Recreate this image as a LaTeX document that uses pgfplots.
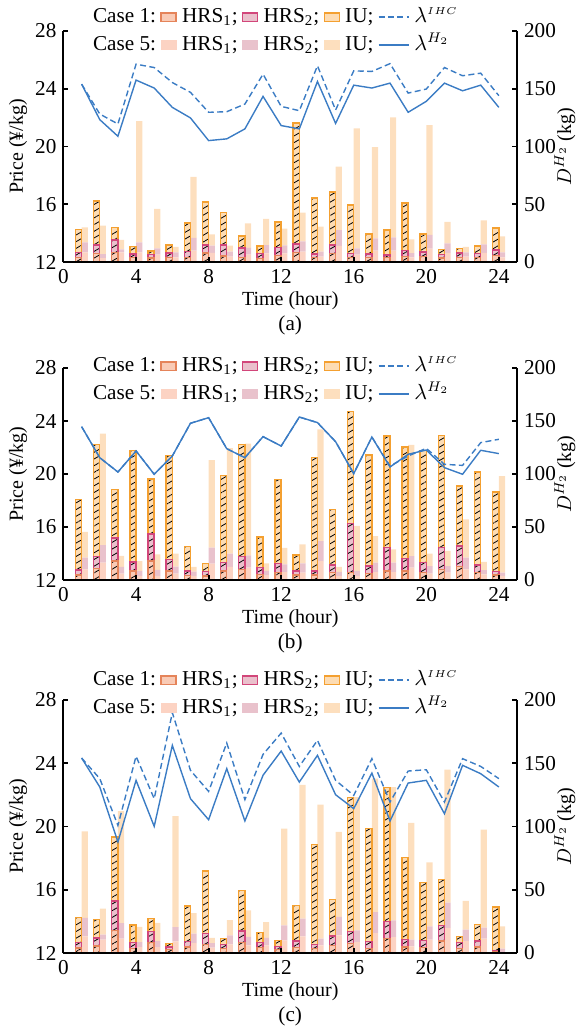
\documentclass[border=0pt]{standalone}
\usepackage{fontspec}
\setmainfont{Liberation Serif}
\usepackage{pgfplots}
\usepackage{pgfplotstable}
\pgfplotsset{compat=1.18}
\usetikzlibrary{patterns.meta}

\definecolor{cIa}{HTML}{E5845A}\definecolor{cIaf}{HTML}{F9CBB6}
\definecolor{cIb}{HTML}{D2467A}\definecolor{cIbf}{HTML}{EAC0CC}
\definecolor{cIc}{HTML}{F4A030}\definecolor{cIcf}{HTML}{FDDCB3}
\definecolor{cVa}{HTML}{FCD3C3}
\definecolor{cVb}{HTML}{E9C2CC}
\definecolor{cVc}{HTML}{FDDFBE}
\definecolor{lblue}{HTML}{3B7CC4}

\newcommand\fsz{\fontsize{10.6}{12}\selectfont}

% hour, case 1 (HRS1 HRS2 IU), case 5 (HRS1 HRS2 IU), lambda IHC, lambda H2
\pgfplotstableread{
h c1a c1b c1c c5a c5b c5c ihc hh
1 4 4.3 20 8.3 8.6 13 24.32 24.32
2 7.5 7.2 38 3.4 3.5 24.7 22.25 21.86
3 8.3 10.9 10.6 8.3 2.6 8.3 21.56 20.71
4 4 3 6.5 8.3 8.6 105 25.7 24.6
5 3.5 3 3 6.3 5.5 34.2 25.47 24.05
6 4 3.8 6.8 4 4.3 4.9 24.43 22.71
7 4 5 24.6 9.8 11.2 52.8 23.75 21.98
8 7.8 6.9 37.3 7.8 6.3 9.8 22.37 20.41
9 5.2 9.5 28 4.6 4.3 5.2 22.41 20.53
10 4 8 10.6 6.3 6 21.2 22.94 21.22
11 3 4.6 6.3 7.5 7.2 22.7 25.01 23.47
12 5.5 7.2 21.8 7.5 6.9 14.4 22.78 21.45
13 8.3 7.2 105 8.9 8.9 25 22.48 21.22
14 4 2.9 48.5 4.6 4.3 21.8 25.59 24.5
15 7.5 7.2 46 14 13.5 55 22.53 21.6
16 4 3.4 42 6.3 5.5 104 25.24 24.25
17 4 2.9 17.2 9.8 10.6 79 25.2 24.05
18 4 2 21.6 9.8 11.5 104 25.74 24.39
19 4.6 5.2 41.3 4 3.7 12 23.7 22.37
20 4.6 4 15.5 11.5 12 95 23.98 23.13
21 3.4 2.9 4.3 7.8 8.3 18.7 25.47 24.39
22 4 3.8 4 4.6 3.7 4.9 24.9 23.86
23 4 3.4 6.3 7.8 7.5 20.7 25.08 24.25
24 5.5 4.9 19 4 4.3 13.8 23.52 22.71
}\dataA

\pgfplotstableread{
h c1a c1b c1c c5a c5b c5c ihc hh
1 4.7 4.7 66.6 10 11 24.3 23.57 23.57
2 10.7 11.3 105.7 16.4 16.4 105.3 21.23 21.23
3 17.9 21.7 45.6 6 6.3 10.4 20.15 20.15
4 8.5 8.5 105.3 3.8 4.7 9.4 21.74 21.74
5 17.9 25.5 52 3.8 5.7 14.8 19.98 19.98
6 8.5 10.7 98.4 6 6.6 12.3 21.36 21.36
7 4.4 4.1 23.3 3.8 4.1 4.4 23.83 23.83
8 3.8 4.1 7.8 15.4 15.1 82.7 24.25 24.25
9 8.5 7.9 82.4 12.3 12.6 99.4 21.91 21.91
10 10 12 105.7 11.6 11.6 105.4 21.23 21.23
11 5.3 6.3 29 4.7 3.8 7.2 22.82 22.82
12 6.9 8.5 79.6 7.5 7.2 15.7 22.11 22.11
13 4.7 3.8 15.1 6.9 8.8 18 24.3 24.3
14 4.7 3.8 107 17.9 18.9 105.4 23.88 23.88
15 6.9 7.2 52.6 3.8 3.8 4.7 22.44 22.44
16 6.9 46.6 105.3 3.8 4.7 42.5 20.03 20.03
17 6 7.2 104.8 7.5 8.8 25.2 22.79 22.79
18 8.5 22 105.4 7.5 8.8 12.6 20.6 20.53
19 8.5 11.6 105.4 11.6 11 105 21.36 21.49
20 6.9 9.4 106 6 7.2 11.6 21.94 21.81
21 10 20.4 106 6.9 6.3 14.2 20.73 20.48
22 12.6 19.5 56.6 10 11 36.2 20.65 19.98
23 6.9 7.2 87.8 5.3 4.1 7.6 22.37 21.79
24 4.7 3.1 75.2 3.8 3.1 91.2 22.62 21.54
}\dataB

\pgfplotstableread{
h c1a c1b c1c c5a c5b c5c ihc hh
1 4 4.2 19.8 13.2 14.5 68.5 24.33 24.33
2 5.5 6.3 14.8 10.5 4 20.5 23.03 22.5
3 17.9 23.2 50.6 11.3 12.4 88.5 20.07 19.02
4 3.4 4.7 14.2 4.7 4 11.9 24.44 22.92
5 8.2 9 10 4.7 4.7 14.5 21.76 20.01
6 2.6 2.1 2.6 9.2 11.3 87.8 27.2 25.13
7 4.7 4.5 28 7.9 7.4 16.3 23.55 21.76
8 6.9 8.4 49.5 4.2 3.7 4 22.22 20.43
9 3.4 3.4 4.5 6.9 7.1 11.9 25.28 23.66
10 8.2 9.2 31.9 6.1 6.6 21 21.7 20.35
11 4.2 4 7.9 6.1 5.8 12.6 24.56 23.24
12 2.9 2.4 4.5 10 11.9 76.4 25.91 24.77
13 4.2 5.3 28.2 13.2 14 105.8 23.8 22.81
14 3.4 3.2 79 6.1 5.3 105.9 25.45 24.5
15 6.1 7.4 28.9 14 14.5 67.2 22.92 22.01
16 7.4 9.8 105.6 8.7 9.2 105.4 21.97 21.13
17 3.4 5.8 89.1 15.8 16.6 105.4 24.29 23.38
18 11.3 13.7 105.7 12.6 13.2 105.4 21.55 20.35
19 4.7 5.8 65.1 5.3 5.3 92.2 23.51 22.75
20 4.2 5.8 45.9 10.5 10.5 50.6 23.59 22.92
21 9.5 12.4 36.1 19.8 20 105.1 21.55 20.81
22 3.4 4.7 5 9.5 9 22.7 24.29 23.87
23 4.7 4.7 13.2 11.3 8.7 77.5 23.8 23.34
24 0.8 1.3 34.3 0.8 2.6 17.7 23.03 22.5
}\dataC

\tikzset{
  hatch/.style={line width=0.7pt,
    postaction={pattern={Lines[angle=30,distance=2.9pt,line width=0.4pt]}, pattern color=black}},
  ihcline/.style={lblue, line width=0.7pt, dash pattern=on 3pt off 1.7pt},
  hline/.style={lblue, line width=0.7pt},
}
\pgfplotsset{
  base/.style={scale only axis, width=226.75pt, xmin=0, xmax=25, anchor=south west,
    tick align=inside, major tick length=2.5pt,
    every tick/.style={black, line width=0.9pt},
    axis line style={line width=1pt},
    tick label style={font=\fsz}, label style={font=\fsz},
    /pgf/number format/assume math mode=true, clip=false},
}

% #1 table, #2 bottom, #3 height, #4 legend yshift, #5 caption
\newcommand{\panel}[5]{%
\begin{axis}[base, at={(0pt,#2)}, height=#3, ymin=0, ymax=200,
    ybar stacked, bar width=3.1pt, bar shift=1.55pt,
    axis x line=none, axis y line*=right, ytick={0,50,...,200},
    ylabel={$D^{H_2}$ (kg)},
    every axis y label/.style={at={(axis description cs:1.1058,0.5)}, anchor=center, rotate=90}]
  \addplot[fill=cVa, draw=none] table[x=h, y=c5a]{#1};
  \addplot[fill=cVb, draw=none] table[x=h, y=c5b]{#1};
  \addplot[fill=cVc, draw=none] table[x=h, y=c5c]{#1};
\end{axis}
\begin{axis}[base, at={(0pt,#2)}, height=#3, ymin=0, ymax=200,
    ybar stacked, bar width=3.1pt, bar shift=-1.55pt, hide x axis, hide y axis]
  \addplot[hatch, fill=cIaf, draw=cIa] table[x=h, y=c1a]{#1};
  \addplot[hatch, fill=cIbf, draw=cIb] table[x=h, y=c1b]{#1};
  \addplot[hatch, fill=cIcf, draw=cIc] table[x=h, y=c1c]{#1};
\end{axis}
\begin{axis}[base, at={(0pt,#2)}, height=#3, ymin=12, ymax=28,
    ytick={12,16,...,28}, xtick={0,4,...,24},
    axis x line*=bottom, axis y line*=left,
    xlabel={Time (hour)}, ylabel={Price (¥/kg)},
    every axis y label/.style={at={(axis description cs:-0.1003,0.5)}, anchor=center, rotate=90},
    every axis x label/.style={at={(axis description cs:0.5,0)}, anchor=center, yshift=-19.5pt},
    legend columns=5, legend cell align=left,
    legend style={draw=none, fill=none, inner sep=0pt, font=\fsz,
      at={(0,1)}, anchor=north west, xshift=12pt, yshift=#4, row sep=2pt,
      nodes={inner sep=1pt, text height=7.5pt, text depth=2.5pt},
      /tikz/every odd column/.append style={column sep=1.6pt},
      /tikz/every even column/.append style={column sep=1.2pt}}]
  \addplot[ihcline, mark=none, forget plot] table[x=h, y=ihc]{#1};
  \addplot[hline, mark=none, forget plot] table[x=h, y=hh]{#1};
  \addlegendimage{empty legend}\addlegendentry{Case 1:}
  \addlegendimage{legend image code/.code={\draw[fill=cIaf, draw=cIa, line width=0.7pt] (0pt,-2pt) rectangle (7.5pt,2.3pt);}}
  \addlegendentry{HRS\textsubscript{1};}
  \addlegendimage{legend image code/.code={\draw[fill=cIbf, draw=cIb, line width=0.7pt] (0pt,-2pt) rectangle (7.5pt,2.3pt);}}
  \addlegendentry{HRS\textsubscript{2};}
  \addlegendimage{legend image code/.code={\draw[fill=cIcf, draw=cIc, line width=0.7pt] (0pt,-2pt) rectangle (7.5pt,2.3pt);}}
  \addlegendentry{IU;}
  \addlegendimage{legend image code/.code={\draw[ihcline] (0pt,0.3pt) -- (15pt,0.3pt);}}
  \addlegendentry{$\lambda^{\scriptscriptstyle IHC}$}
  \addlegendimage{empty legend}\addlegendentry{Case 5:}
  \addlegendimage{legend image code/.code={\fill[cVa] (0pt,-2pt) rectangle (7.5pt,2.3pt);}}
  \addlegendentry{HRS\textsubscript{1};}
  \addlegendimage{legend image code/.code={\fill[cVb] (0pt,-2pt) rectangle (7.5pt,2.3pt);}}
  \addlegendentry{HRS\textsubscript{2};}
  \addlegendimage{legend image code/.code={\fill[cVc] (0pt,-2pt) rectangle (7.5pt,2.3pt);}}
  \addlegendentry{IU;}
  \addlegendimage{legend image code/.code={\draw[hline] (0pt,0.3pt) -- (15pt,0.3pt);}}
  \addlegendentry{$\lambda^{H_2}$}
  \node[font=\fsz] at (axis description cs:0.5,0) [yshift=-31.5pt] {#5};
\end{axis}
}

\begin{document}
\begin{tikzpicture}
\useasboundingbox (-31.75pt,0pt) rectangle (259.25pt,-514.5pt);
\panel{\dataA}{-131pt}{115.5pt}{13pt}{(a)}
\panel{\dataB}{-290pt}{106pt}{7pt}{(b)}
\panel{\dataC}{-476.5pt}{126.5pt}{16pt}{(c)}
\end{tikzpicture}
\end{document}
